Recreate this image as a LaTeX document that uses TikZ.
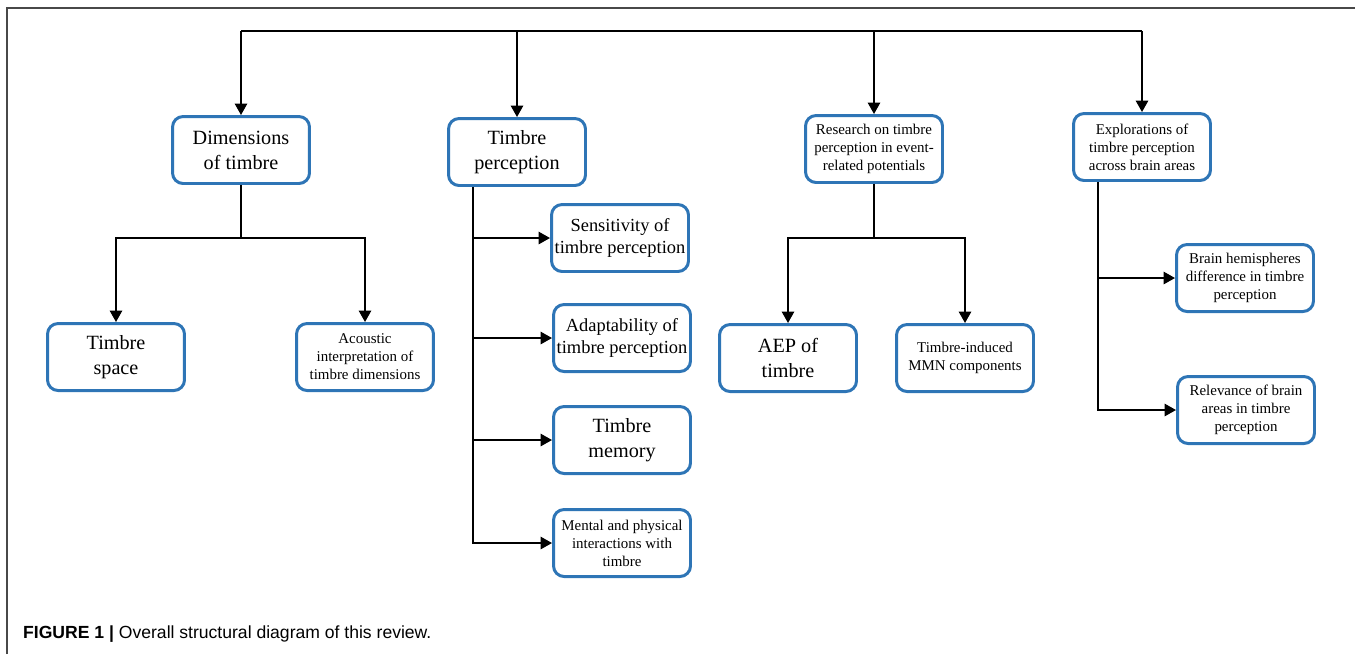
\documentclass[tikz,border=0pt]{standalone}
\usepackage{fontspec}
\setmainfont{Liberation Serif}
\newfontfamily\capfont{Liberation Sans}
\usetikzlibrary{arrows.meta, positioning, shapes}
\definecolor{boxblue}{RGB}{46,117,182}
\definecolor{framegray}{RGB}{72,72,72}
\tikzstyle{box} = [draw=boxblue, line width=1.7pt, rounded corners=6pt, fill=white, minimum width=2.74cm, minimum height=1.34cm, align=center, inner sep=1pt]
\tikzstyle{bigtext} = [font=\fontsize{11.5}{14.2}\selectfont]
\tikzstyle{midtext} = [font=\fontsize{10.5}{12.5}\selectfont]
\tikzstyle{smalltext} = [font=\fontsize{8.5}{10.3}\selectfont]
\tikzstyle{wire} = [line width=1.1pt]
\tikzstyle{link} = [wire,-{Triangle[length=6.5pt,width=7pt]}]

\begin{document}
\begin{tikzpicture}[x=0.02cm, y=-0.02cm]
        \useasboundingbox (0,0) rectangle (1355,654);
        \draw [framegray, line width=1.2pt] (7,654) -- (7,8) -- (1355,8);

        % top row
        \node (t1) [box, bigtext] at (241,150) {Dimensions\\of timbre};
        \node (t2) [box, bigtext] at (517,152) {Timbre\\perception};
        \node (t3) [box, smalltext] at (874,149) {Research on timbre\\perception in event-\\related potentials};
        \node (t4) [box, smalltext] at (1142,147) {Explorations of\\timbre perception\\across brain areas};
        \coordinate (top) at (0,31);
        \draw [wire] (t1.north |- top) -- (t4.north |- top);
        \foreach \n in {t1,t2,t3,t4}
            \draw [link] (\n.north |- top) -- (\n);

        % dimensions of timbre
        \node (a1) [box, bigtext] at (116,357) {Timbre\\space};
        \node (a2) [box, smalltext] at (365,357) {Acoustic\\interpretation of\\timbre dimensions};
        \coordinate (j1) at (241,238);
        \draw [wire] (t1) -- (j1);
        \draw [link] (j1) -| (a1);
        \draw [link] (j1) -| (a2);

        % timbre perception
        \node (b1) [box, midtext] at (620,238) {Sensitivity of\\timbre perception};
        \node (b2) [box, midtext] at (622,338) {Adaptability of\\timbre perception};
        \node (b3) [box, bigtext] at (622,440) {Timbre\\memory};
        \node (b4) [box, smalltext] at (622,543) {Mental and physical\\interactions with\\timbre};
        \coordinate (j2) at (473,187);
        \foreach \n in {b1,b2,b3,b4}
            \draw [link] (j2) |- (\n);

        % event-related potentials
        \node (c1) [box, bigtext] at (788,358) {AEP of\\timbre};
        \node (c2) [box, smalltext] at (965,358) {Timbre-induced\\MMN components};
        \coordinate (j3) at (874,238);
        \draw [wire] (t3) -- (j3);
        \draw [link] (j3) -| (c1);
        \draw [link] (j3) -| (c2);

        % brain areas
        \node (d1) [box, smalltext] at (1245,278) {Brain hemispheres\\difference in timbre\\perception};
        \node (d2) [box, smalltext] at (1246,410) {Relevance of brain\\areas in timbre\\perception};
        \coordinate (j4) at (1098,182);
        \draw [link] (j4) |- (d1);
        \draw [link] (j4) |- (d2);

        \node (cap) [anchor=base west, font=\capfont\fontsize{10}{12}\selectfont] at (17,638) {\textbf{FIGURE 1 |} Overall structural diagram of this review.};
\end{tikzpicture}
\end{document}
